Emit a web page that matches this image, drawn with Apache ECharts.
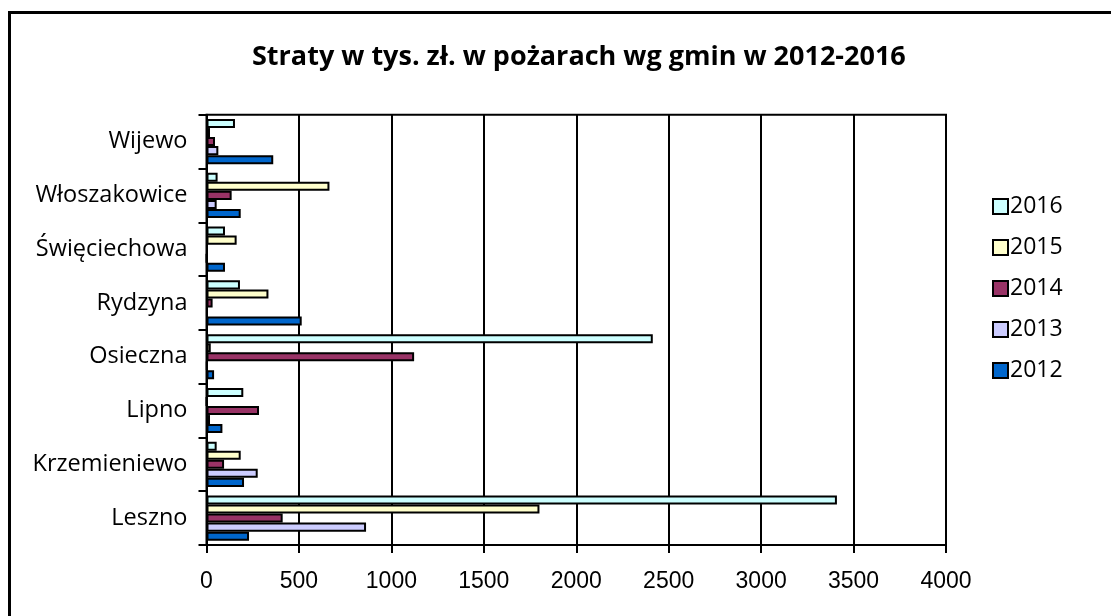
<!DOCTYPE html>
<html><head><meta charset="utf-8">
<script src="https://cdn.jsdelivr.net/npm/echarts@6/dist/echarts.min.js"></script>
<style>html,body{margin:0;padding:0;background:#fff}#c{width:1111px;height:616px}</style>
</head><body><div id="c"></div>
<script>
const categories = ['Leszno','Krzemieniewo','Lipno','Osieczna','Rydzyna','Święciechowa','Włoszakowice','Wijewo'];
const years = ['2016','2015','2014','2013','2012'];
const v2012 = [230, 203, 86, 41, 515, 100, 185, 361];
const v2013 = [863, 277, 19, 3, 5, 0, 55, 64];
const v2014 = [412, 95, 284, 1123, 33, 5, 136, 46];
const v2015 = [1801, 185, 0, 23, 335, 163, 665, 19];
const v2016 = [3410, 55, 199, 2414, 181, 100, 60, 154];
const xTicks = [0, 500, 1000, 1500, 2000, 2500, 3000, 3500, 4000];
const colors = ['#CCFFFF', '#FFFFCC', '#993366', '#CCCCFF', '#0066CC'];
const values = [v2016, v2015, v2014, v2013, v2012];

const chart = echarts.init(document.getElementById('c'));
chart.setOption({
  animation: false,
  backgroundColor: '#fff',
  title: {
    text: 'Straty w tys. zł. w pożarach wg gmin w 2012-2016',
    left: 247, top: 39,
    textStyle: {fontFamily: 'Open Sans', fontWeight: 'bold', fontSize: 27, color: '#000'}
  },
  graphic: [{
    type: 'rect', shape: {x: 9.5, y: 12.5, width: 1120, height: 620},
    style: {fill: 'none', stroke: '#000', lineWidth: 3}, silent: true
  }],
  legend: {
    orient: 'vertical', left: 987, top: 190,
    data: ['2016','2015','2014','2013','2012'],
    itemWidth: 15, itemHeight: 15, itemGap: 18,
    textStyle: {fontFamily: 'Open Sans', fontSize: 23, color: '#000', padding: [0,0,0,-3]},
    icon: 'rect'
  },
  grid: {left: 206.5, right: 165, top: 114.7, bottom: 71, show: true, borderColor: '#000', borderWidth: 2},
  xAxis: {
    type: 'value', min: 0, max: 4000, interval: 500,
    axisLine: {show: true, lineStyle: {color: '#000', width: 2}},
    axisTick: {show: true, length: 8, lineStyle: {color: '#000', width: 2}},
    splitLine: {show: true, lineStyle: {color: '#000', width: 2}},
    axisLabel: {margin: 25, fontFamily: 'Liberation Sans', fontSize: 23, color: '#000',
      formatter: v => xTicks.includes(v) ? String(v) : ''}
  },
  yAxis: {
    type: 'category', data: categories, inverse: false,
    axisLine: {show: true, lineStyle: {color: '#000', width: 2}},
    axisTick: {show: true, length: 8, lineStyle: {color: '#000', width: 2}},
    axisLabel: {margin: 19, fontFamily: 'Open Sans', fontSize: 23.5, color: '#000'}
  },
  series: years.map((y, i) => ({
    name: y, type: 'bar', data: values[i],
    barGap: '0%', barCategoryGap: '16%',
    itemStyle: {color: colors[i], borderColor: '#000', borderWidth: 2}
  }))
});
</script></body></html>
